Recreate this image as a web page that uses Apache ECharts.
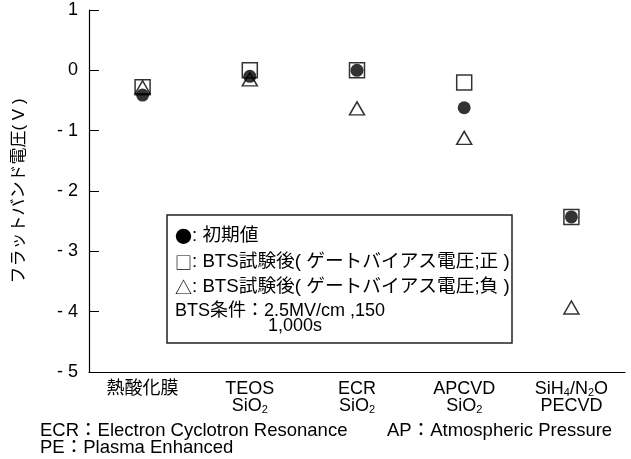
<!DOCTYPE html>
<html>
<head>
<meta charset="utf-8">
<script src="https://cdn.jsdelivr.net/npm/echarts@6/dist/echarts.min.js"></script>
<style>html,body{margin:0;padding:0;background:#fff}#c{width:631px;height:459px}</style>
</head>
<body>
<div id="c"></div>
<script>
var categories = ['熱酸化膜', 'TEOS SiO2', 'ECR SiO2', 'APCVD SiO2', 'SiH4/N2O PECVD'];
var categoryLabels = [
  '{a|熱酸化膜}',
  '{a|TEOS}\n{a|SiO}{s|2}',
  '{a|ECR}\n{a|SiO}{s|2}',
  '{a|APCVD}\n{a|SiO}{s|2}',
  '{a|SiH}{s|4}{a|/N}{s|2}{a|O}\n{a|PECVD}'
];
var initialValues = [-0.41, -0.10, 0.0, -0.62, -2.43];
var positiveValues = [-0.28, 0.0, 0.0, -0.20, -2.43];
var negativeValues = [-0.28, -0.15, -0.63, -1.12, -3.93];
var yTicks = [-5, -4, -3, -2, -1, 0, 1];

var FONT = '"Liberation Sans", Arial, "Noto Sans CJK JP", sans-serif';
var JFONT = '"Noto Sans CJK JP", sans-serif';
var chart = echarts.init(document.getElementById('c'), null, {renderer: 'canvas'});

function pairs(vals) { return vals.map(function (v, i) { return [categories[i], v]; }); }

var legendSymbols = ['●', '□', '△'];
var legendTexts = [
  ': 初期値',
  ': BTS試験後( ゲートバイアス電圧;正 )',
  ': BTS試験後( ゲートバイアス電圧;負 )'
];
var legendRich = {
  j: {fontFamily: JFONT, fontSize: 17, fill: '#000'},
  t: {fontFamily: FONT, fontSize: 18.7, fill: '#000'}
};
function legendItem(i, top) {
  return {type: 'text', left: 175, top: top, z: 11,
    style: {text: '{j|' + legendSymbols[i] + '}{t|' + legendTexts[i] + '}', rich: legendRich}};
}

chart.setOption({
  animation: false,
  backgroundColor: '#fff',
  textStyle: {fontFamily: FONT},
  grid: {left: 89, right: 6, top: 10, bottom: 87},
  xAxis: {
    type: 'category',
    data: categories,
    boundaryGap: true,
    axisLine: {onZero: false, lineStyle: {color: '#000', width: 1.2}},
    axisTick: {inside: true, length: 10, lineStyle: {color: '#000', width: 1}},
    axisLabel: {
      margin: 9,
      interval: 0,
      formatter: function (v, i) { return categoryLabels[i]; },
      rich: {
        a: {fontFamily: FONT, fontSize: 18, color: '#000', lineHeight: 17},
        s: {fontFamily: FONT, fontSize: 11, color: '#000', lineHeight: 17, verticalAlign: 'bottom', padding: [6, 0, 0, 0]}
      }
    },
    splitLine: {show: false}
  },
  yAxis: {
    type: 'value',
    min: -5, max: 1, interval: 1,
    axisLine: {show: true, lineStyle: {color: '#000', width: 1.2}},
    axisTick: {show: true, inside: true, length: 10, lineStyle: {color: '#000', width: 1}},
    axisLabel: {
      color: '#000', fontSize: 18, fontFamily: FONT, margin: 11,
      formatter: function (v) { return v < 0 ? '- ' + Math.abs(v) : String(v); }
    },
    splitLine: {show: false},
    name: 'フラットバンド電圧( V )',
    nameLocation: 'middle',
    nameGap: 61,
    nameTextStyle: {color: '#000', fontSize: 17, fontFamily: FONT}
  },
  series: [
    {
      type: 'scatter', name: 'positive', data: pairs(positiveValues),
      symbol: 'rect', symbolSize: 15, z: 2,
      itemStyle: {color: 'rgba(255,255,255,0)', borderColor: '#000', borderWidth: 1.5}
    },
    {
      type: 'scatter', name: 'negative', data: pairs(negativeValues),
      symbol: 'triangle', symbolSize: [15, 13], z: 3,
      itemStyle: {color: 'rgba(255,255,255,0)', borderColor: '#000', borderWidth: 1.5}
    },
    {
      type: 'scatter', name: 'initial', data: pairs(initialValues),
      symbol: 'circle', symbolSize: 13, z: 4,
      itemStyle: {color: '#000', borderWidth: 0}
    }
  ],
  graphic: [
    {type: 'rect', shape: {x: 167, y: 215, width: 345, height: 128},
     style: {fill: '#fff', stroke: '#222', lineWidth: 1.5}, z: 10},
    legendItem(0, 227),
    legendItem(1, 253),
    legendItem(2, 278),
    {type: 'text', left: 175, top: 302, z: 11, style: {text: 'BTS条件：2.5MV/cm ,150', font: '18px ' + FONT, fill: '#000'}},
    {type: 'text', left: 268, top: 317, z: 11, style: {text: '1,000s', font: '18px ' + FONT, fill: '#000'}},
    {type: 'text', left: 40, top: 422, style: {text: 'ECR：Electron Cyclotron Resonance', font: '18.5px ' + FONT, fill: '#000'}},
    {type: 'text', left: 387, top: 422, style: {text: 'AP：Atmospheric Pressure', font: '18.5px ' + FONT, fill: '#000'}},
    {type: 'text', left: 40, top: 439, style: {text: 'PE：Plasma Enhanced', font: '18.5px ' + FONT, fill: '#000'}}
  ]
});
</script>
</body>
</html>
